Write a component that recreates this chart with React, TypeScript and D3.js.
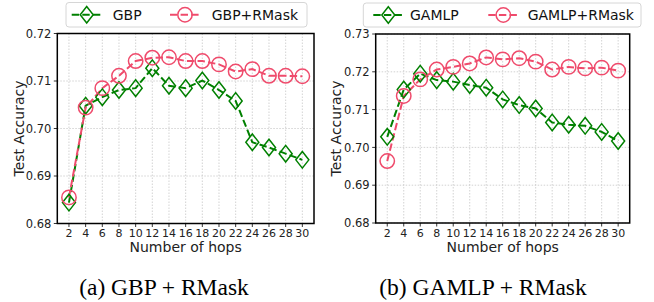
import * as d3 from "d3";

// number of hops on the x axis
const hops = [2, 4, 6, 8, 10, 12, 14, 16, 18, 20, 22, 24, 26, 28, 30];

// (a) GBP
const gbp = [0.6844, 0.7048, 0.7066, 0.7081, 0.7085, 0.7127, 0.709, 0.7085, 0.7101, 0.7081, 0.7058, 0.6971, 0.696, 0.6947, 0.6934];
const gbpRMask = [0.6855, 0.7044, 0.7085, 0.7111, 0.7142, 0.7149, 0.715, 0.7142, 0.7142, 0.7135, 0.712, 0.7125, 0.7111, 0.7111, 0.711];

// (b) GAMLP
const gamlp = [0.7028, 0.7153, 0.7195, 0.7178, 0.7174, 0.7165, 0.7158, 0.7127, 0.7112, 0.7103, 0.7066, 0.706, 0.7057, 0.7041, 0.7017];
const gamlpRMask = [0.6964, 0.7136, 0.718, 0.7206, 0.7213, 0.7222, 0.7238, 0.7233, 0.7236, 0.7227, 0.7206, 0.7213, 0.7209, 0.7211, 0.7203];

const leftTicks = [0.68, 0.69, 0.7, 0.71, 0.72];
const rightTicks = [0.68, 0.69, 0.7, 0.71, 0.72, 0.73];

const GREEN = "#008000";
const PINK = "#ef4b6c";
const SANS = "DejaVu Sans, sans-serif";

interface PanelProps {
	base: number[];
	masked: number[];
	baseName: string;
	maskName: string;
	yTicks: number[];
	box: { x0: number; x1: number; y0: number; y1: number };
	yLabelX: number;
	legend: { x: number; y: number; w: number; h: number; m1: number; t1: number; m2: number; t2: number };
	caption: string;
	captionX: number;
}

function Diamond({ x, y }: { x: number; y: number }) {
	const w = 6.5;
	const h = 8.3;
	return (
		<path
			d={`M${x},${y - h}L${x + w},${y}L${x},${y + h}L${x - w},${y}Z`}
			fill="none"
			stroke={GREEN}
			strokeWidth={1.5}
		/>
	);
}

function Ring({ x, y }: { x: number; y: number }) {
	return <circle cx={x} cy={y} r={7.2} fill="none" stroke={PINK} strokeWidth={1.5} />;
}

function Panel(p: PanelProps) {
	const { box } = p;
	const x = d3.scaleLinear().domain([0.6, 31.4]).range([box.x0, box.x1]);
	const y = d3
		.scaleLinear()
		.domain([p.yTicks[0], p.yTicks[p.yTicks.length - 1]])
		.range([box.y1, box.y0]);
	const line = d3
		.line<number>()
		.x((_, i) => x(hops[i]))
		.y((d) => y(d));
	const fmt = d3.format(".2f");
	const lg = p.legend;
	const ly = lg.y + lg.h / 2;

	return (
		<g>
			{/* grid */}
			{hops.map((h) => (
				<line key={"gx" + h} x1={x(h)} x2={x(h)} y1={box.y0} y2={box.y1} stroke="#c8c8c8" strokeWidth={0.8} strokeDasharray="1.5,1.5" />
			))}
			{p.yTicks.map((t) => (
				<line key={"gy" + t} x1={box.x0} x2={box.x1} y1={y(t)} y2={y(t)} stroke="#c8c8c8" strokeWidth={0.8} strokeDasharray="1.5,1.5" />
			))}

			{/* series */}
			<path d={line(p.base) ?? ""} fill="none" stroke={GREEN} strokeWidth={2} strokeDasharray="7.4,3.2" />
			<path d={line(p.masked) ?? ""} fill="none" stroke={PINK} strokeWidth={2} strokeDasharray="7.4,3.2" />
			{p.base.map((v, i) => (
				<Diamond key={"d" + i} x={x(hops[i])} y={y(v)} />
			))}
			{p.masked.map((v, i) => (
				<Ring key={"c" + i} x={x(hops[i])} y={y(v)} />
			))}

			{/* frame */}
			<rect x={box.x0} y={box.y0} width={box.x1 - box.x0} height={box.y1 - box.y0} fill="none" stroke="#000" strokeWidth={1.5} />

			{/* x axis */}
			{hops.map((h) => (
				<g key={"xt" + h}>
					<line x1={x(h)} x2={x(h)} y1={box.y1} y2={box.y1 + 3.5} stroke="#000" strokeWidth={0.8} />
					<text x={x(h)} y={box.y1 + 13.5} textAnchor="middle" fontSize={11} fontFamily={SANS} fill="#222">
						{h}
					</text>
				</g>
			))}
			<text x={(box.x0 + box.x1) / 2} y={252} textAnchor="middle" fontSize={14} fontFamily={SANS} fill="#222">
				Number of hops
			</text>

			{/* y axis */}
			{p.yTicks.map((t) => (
				<g key={"yt" + t}>
					<line x1={box.x0 - 3.5} x2={box.x0} y1={y(t)} y2={y(t)} stroke="#000" strokeWidth={0.8} />
					<text x={box.x0 - 6} y={y(t)} dy="0.36em" textAnchor="end" fontSize={11.5} fontFamily={SANS} fill="#222">
						{fmt(t)}
					</text>
				</g>
			))}
			<text
				transform={`translate(${p.yLabelX},${(box.y0 + box.y1) / 2}) rotate(-90)`}
				dy="0.36em"
				textAnchor="middle"
				fontSize={14}
				fontFamily={SANS}
				fill="#222"
			>
				Test Accuracy
			</text>

			{/* legend */}
			<rect x={lg.x} y={lg.y} width={lg.w} height={lg.h} rx={3} fill="#fff" stroke="#d6d6d6" strokeWidth={1} />
			<line x1={lg.m1 - 15} x2={lg.m1 + 15} y1={ly} y2={ly} stroke={GREEN} strokeWidth={2} strokeDasharray="7.4,3.2" />
			<Diamond x={lg.m1} y={ly} />
			<text x={lg.t1} y={ly} dy="0.36em" fontSize={14} fontFamily={SANS} fill="#111">
				{p.baseName}
			</text>
			<line x1={lg.m2 - 15} x2={lg.m2 + 15} y1={ly} y2={ly} stroke={PINK} strokeWidth={2} strokeDasharray="7.4,3.2" />
			<Ring x={lg.m2} y={ly} />
			<text x={lg.t2} y={ly} dy="0.36em" fontSize={14} fontFamily={SANS} fill="#111">
				{p.maskName}
			</text>

			{/* caption */}
			<text x={p.captionX} y={295} textAnchor="middle" fontSize={23.5} fontFamily="Liberation Serif, serif" fill="#000">
				{p.caption}
			</text>
		</g>
	);
}

export default function App() {
	return (
		<svg width={654} height={302} style={{ position: "absolute", left: 0, top: 0, background: "#fff" }}>
			<Panel
				base={gbp}
				masked={gbpRMask}
				baseName="GBP"
				maskName="GBP+RMask"
				yTicks={leftTicks}
				box={{ x0: 57.3, x1: 314, y0: 33.5, y1: 223.5 }}
				yLabelX={19}
				legend={{ x: 66, y: 2.5, w: 241, h: 24.5, m1: 86.7, t1: 112.7, m2: 185, t2: 211.7 }}
				caption="(a) GBP + RMask"
				captionX={164}
			/>
			<Panel
				base={gamlp}
				masked={gamlpRMask}
				baseName="GAMLP"
				maskName="GAMLP+RMask"
				yTicks={rightTicks}
				box={{ x0: 375.7, x1: 629.7, y0: 34, y1: 223 }}
				yLabelX={336}
				legend={{ x: 363.3, y: 3, w: 277.7, h: 24, m1: 388.3, t1: 410, m2: 503.3, t2: 527.7 }}
				caption="(b) GAMLP + RMask"
				captionX={483}
			/>
		</svg>
	);
}
